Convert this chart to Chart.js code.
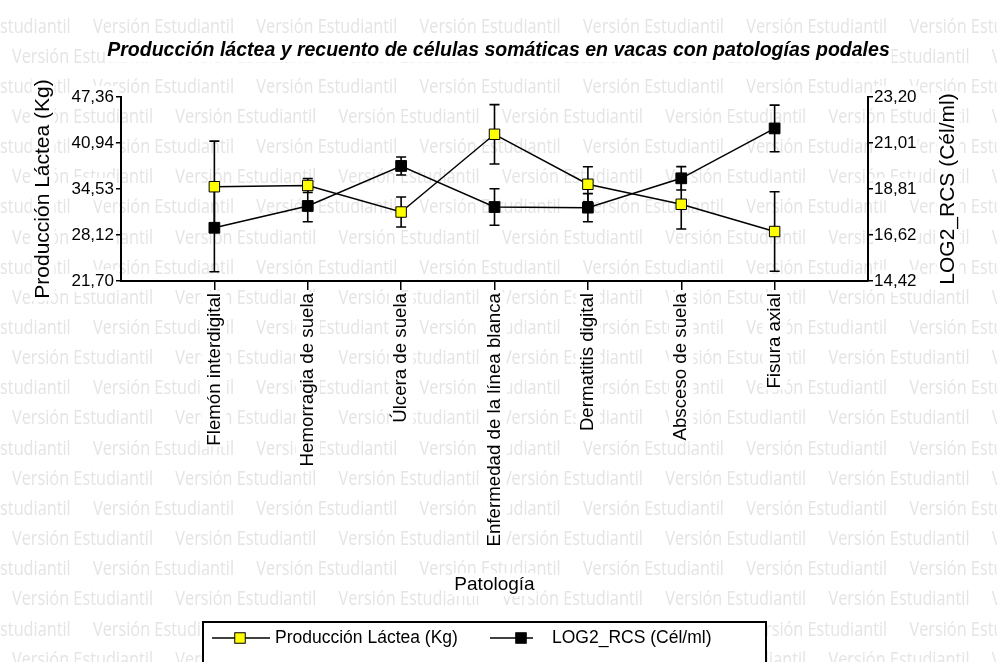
<!DOCTYPE html>
<html>
<head>
<meta charset="utf-8">
<script src="https://cdn.jsdelivr.net/npm/chart.js@4.4.0/dist/chart.umd.min.js"></script>
<style>
  html, body { margin: 0; padding: 0; background: #fff; }
  #wrap { width: 997px; height: 662px; }
</style>
</head>
<body>
<div id="wrap"><canvas id="c" width="997" height="662"></canvas></div>
<script>
// ---- data ----
const categories = [
  'Flemón interdigital',
  'Hemorragia de suela',
  'Úlcera de suela',
  'Enfermedad de la línea blanca',
  'Dermatitis digital',
  'Absceso de suela',
  'Fisura axial'
];
const milkMean = [34.85, 35.02, 31.32, 42.16, 35.19, 32.40, 28.60];
const milkErr  = [6.35, 0.98, 2.09, 4.14, 2.45, 3.44, 5.54];
const rcsMean  = [16.96, 18.00, 19.91, 17.95, 17.92, 19.32, 21.70];
const rcsErr   = [2.10, 0.75, 0.43, 0.87, 0.67, 0.56, 1.11];

const leftTicks  = [21.70, 28.12, 34.53, 40.94, 47.36];
const rightTicks = [14.42, 16.62, 18.81, 21.01, 23.20];

const chartTitle = 'Producción láctea y recuento de células somáticas en vacas con patologías podales';
const leftTitle = 'Producción Láctea (Kg)';
const rightTitle = 'LOG2_RCS (Cél/ml)';
const xTitle = 'Patología';
const seriesNames = ['Producción Láctea (Kg)', 'LOG2_RCS (Cél/ml)'];
const watermarkText = 'Versión Estudiantil';

// ---- styling ----
const FONT = '"Liberation Sans", Arial, sans-serif';
const TITLE_SIZE = 19.5, TITLE_PAD = { top: 39, bottom: 34.6 };
const YTITLE_SIZE = 21, YTITLE_PAD = 30.4;
const XTITLE_SIZE = 19, XTITLE_PAD = 66;
const XTICK_SIZE = 18.7;
const YTICK_SIZE = 17;
const LEGEND_SIZE = 17.5;

Chart.defaults.font.family = FONT;
Chart.defaults.color = '#000';

const decimalComma = v => Number(v).toFixed(2).replace('.', ',');

function whiteBox(ctx, cx, cy, w, h) {
  ctx.fillStyle = '#fff';
  ctx.fillRect(cx - w / 2, cy - h / 2, w, h);
}

// page background, repeated watermark text and clear areas behind the titles
const backdropPlugin = {
  id: 'backdrop',
  beforeDraw(chart) {
    const ctx = chart.ctx;
    ctx.save();
    ctx.fillStyle = '#fff';
    ctx.fillRect(0, 0, chart.width, chart.height);

    ctx.font = '20px "Open Sans"';
    const sx = 141 / ctx.measureText(watermarkText).width;
    ctx.fillStyle = '#e4e4e4';
    ctx.textBaseline = 'alphabetic';
    ctx.textAlign = 'left';
    for (let k = 0; k < 23; k++) {
      const y = 32.5 + 30.15 * k;
      const x0 = (k % 2 ? 12 : 93) - 163.3;
      ctx.save();
      ctx.scale(sx, 1);
      for (let x = x0; x < chart.width; x += 163.3) ctx.fillText(watermarkText, x / sx, y);
      ctx.restore();
    }

    // chart title
    const tb = chart.titleBlock;
    ctx.font = `italic bold ${TITLE_SIZE}px ${FONT}`;
    let w = ctx.measureText(chartTitle).width;
    whiteBox(ctx, (tb.left + tb.right) / 2, tb.top + TITLE_PAD.top + TITLE_SIZE * 0.6, w + 4, TITLE_SIZE + 4);

    // left axis title
    const ys = chart.scales.y;
    ctx.font = `${YTITLE_SIZE}px ${FONT}`;
    w = ctx.measureText(leftTitle).width;
    whiteBox(ctx, ys.left + YTITLE_PAD + YTITLE_SIZE * 0.6, (ys.top + ys.bottom) / 2, YTITLE_SIZE + 2, w + 4);

    // right axis title
    const y1 = chart.scales.y1;
    w = ctx.measureText(rightTitle).width;
    whiteBox(ctx, y1.right - 49, (y1.top + y1.bottom) / 2, YTITLE_SIZE + 2, w + 4);

    // x axis title
    const xs = chart.scales.x;
    ctx.font = `${XTITLE_SIZE}px ${FONT}`;
    w = ctx.measureText(xTitle).width;
    whiteBox(ctx, (xs.left + xs.right) / 2, xs.bottom - XTITLE_PAD - XTITLE_SIZE * 0.6, w + 4, XTITLE_SIZE + 4);
    ctx.restore();
  },
  afterDraw(chart) {
    const ctx = chart.ctx;
    const y1 = chart.scales.y1;
    ctx.save();
    // right axis title, reading upwards
    ctx.font = `${YTITLE_SIZE}px ${FONT}`;
    ctx.fillStyle = '#000';
    ctx.textAlign = 'center';
    ctx.textBaseline = 'middle';
    ctx.translate(y1.right - 49, (y1.top + y1.bottom) / 2);
    ctx.rotate(-Math.PI / 2);
    ctx.fillText(rightTitle, 0, 0);
    ctx.restore();

    // legend box
    ctx.save();
    const bx = 203, by = 622, bw = 563, bh = 60;
    ctx.fillStyle = '#fff';
    ctx.fillRect(bx, by, bw, bh);
    ctx.strokeStyle = '#000';
    ctx.lineWidth = 2;
    ctx.strokeRect(bx, by, bw, bh);
    const items = [
      { ds: chart.data.datasets[0], x1: 212, x2: 270, mx: 240, tx: 275 },
      { ds: chart.data.datasets[1], x1: 490, x2: 533, mx: 521, tx: 552 }
    ];
    const ly = 638;
    items.forEach((it, i) => {
      ctx.strokeStyle = it.ds.borderColor;
      ctx.lineWidth = it.ds.borderWidth;
      ctx.beginPath();
      ctx.moveTo(it.x1, ly);
      ctx.lineTo(it.x2, ly);
      ctx.stroke();
      const s = 10.5;
      ctx.fillStyle = it.ds.pointBackgroundColor;
      ctx.fillRect(it.mx - s / 2, ly - s / 2, s, s);
      ctx.lineWidth = 1;
      ctx.strokeStyle = it.ds.pointBorderColor;
      ctx.strokeRect(it.mx - s / 2, ly - s / 2, s, s);
      ctx.fillStyle = '#000';
      ctx.font = `${LEGEND_SIZE}px ${FONT}`;
      ctx.textAlign = 'left';
      ctx.textBaseline = 'middle';
      ctx.fillText(seriesNames[i], it.tx, ly);
    });
    ctx.restore();
  }
};

// vertical error bars with caps, behind the lines and markers
const errorBarPlugin = {
  id: 'errorBars',
  beforeDatasetsDraw(chart) {
    const ctx = chart.ctx;
    const xs = chart.scales.x;
    const sets = [
      { mean: milkMean, err: milkErr, scale: chart.scales.y },
      { mean: rcsMean, err: rcsErr, scale: chart.scales.y1 }
    ];
    ctx.save();
    ctx.strokeStyle = '#000';
    ctx.lineWidth = 1.6;
    sets.forEach(set => {
      set.mean.forEach((m, i) => {
        const x = xs.getPixelForValue(i + 1);
        const yt = set.scale.getPixelForValue(m + set.err[i]);
        const yb = set.scale.getPixelForValue(m - set.err[i]);
        ctx.beginPath();
        ctx.moveTo(x, yt); ctx.lineTo(x, yb);
        ctx.moveTo(x - 5, yt); ctx.lineTo(x + 5, yt);
        ctx.moveTo(x - 5, yb); ctx.lineTo(x + 5, yb);
        ctx.stroke();
      });
    });
    ctx.restore();
  }
};

const axisBorder = { display: true, color: '#000', width: 2 };

new Chart(document.getElementById('c'), {
  type: 'line',
  data: {
    datasets: [
      {
        label: seriesNames[0],
        yAxisID: 'y',
        data: milkMean.map((v, i) => ({ x: i + 1, y: v })),
        borderColor: '#000',
        borderWidth: 1.5,
        pointStyle: 'rect',
        pointRadius: 7.4,
        pointBackgroundColor: '#ffff00',
        pointBorderColor: '#000',
        pointBorderWidth: 1,
        tension: 0
      },
      {
        label: seriesNames[1],
        yAxisID: 'y1',
        data: rcsMean.map((v, i) => ({ x: i + 1, y: v })),
        borderColor: '#000',
        borderWidth: 1.5,
        pointStyle: 'rect',
        pointRadius: 7.6,
        pointBackgroundColor: '#000',
        pointBorderColor: '#000',
        pointBorderWidth: 1,
        tension: 0
      }
    ]
  },
  options: {
    responsive: false,
    animation: false,
    devicePixelRatio: 1,
    layout: { padding: 0 },
    plugins: {
      legend: { display: false },
      tooltip: { enabled: false },
      title: {
        display: true,
        text: chartTitle,
        fullSize: true,
        color: '#000',
        font: { size: TITLE_SIZE, weight: 'bold', style: 'italic' },
        padding: TITLE_PAD
      }
    },
    scales: {
      x: {
        type: 'linear',
        min: 0,
        max: 8,
        afterBuildTicks: s => { s.ticks = categories.map((_, i) => ({ value: i + 1 })); },
        afterFit: s => { s.height = 381; },
        border: axisBorder,
        grid: { drawOnChartArea: false, drawTicks: true, tickLength: 9, color: '#000', lineWidth: 1.5 },
        ticks: {
          autoSkip: false,
          minRotation: 90,
          maxRotation: 90,
          padding: 3,
          color: '#000',
          font: { size: XTICK_SIZE },
          callback: v => categories[v - 1] ?? '',
          showLabelBackdrop: true,
          backdropColor: '#fff',
          backdropPadding: 1,
          labelOffset: -XTICK_SIZE * 1.2 / 2
        },
        title: {
          display: true,
          text: xTitle,
          color: '#000',
          font: { size: XTITLE_SIZE },
          padding: { top: 0, bottom: XTITLE_PAD }
        }
      },
      y: {
        position: 'left',
        min: leftTicks[0],
        max: leftTicks[leftTicks.length - 1],
        afterBuildTicks: s => { s.ticks = leftTicks.map(v => ({ value: v })); },
        afterFit: s => { s.width = 121; },
        border: axisBorder,
        grid: { drawOnChartArea: false, drawTicks: true, tickLength: 5, color: '#000', lineWidth: 1.5 },
        ticks: {
          padding: 2,
          color: '#000',
          font: { size: YTICK_SIZE },
          callback: decimalComma,
          showLabelBackdrop: true,
          backdropColor: '#fff',
          backdropPadding: 1
        },
        title: {
          display: true,
          text: leftTitle,
          color: '#000',
          font: { size: YTITLE_SIZE },
          padding: { top: YTITLE_PAD, bottom: 0 }
        }
      },
      y1: {
        position: 'right',
        min: rightTicks[0],
        max: rightTicks[rightTicks.length - 1],
        afterBuildTicks: s => { s.ticks = rightTicks.map(v => ({ value: v })); },
        afterFit: s => { s.width = 129; },
        border: axisBorder,
        grid: { drawOnChartArea: false, drawTicks: true, tickLength: 5, color: '#000', lineWidth: 1.5 },
        ticks: {
          padding: 1,
          color: '#000',
          font: { size: YTICK_SIZE },
          callback: decimalComma,
          showLabelBackdrop: true,
          backdropColor: '#fff',
          backdropPadding: 1
        },
        title: { display: false }
      }
    }
  },
  plugins: [backdropPlugin, errorBarPlugin]
});
</script>
</body>
</html>
